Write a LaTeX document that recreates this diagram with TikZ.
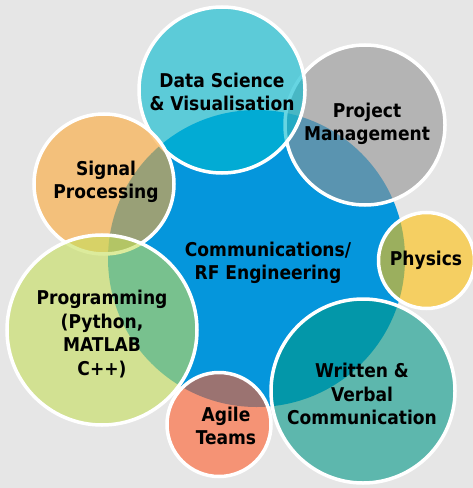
\documentclass[tikz,border=0pt]{standalone}
\usepackage{fontspec}
\setmainfont{DejaVu Sans Condensed}
\definecolor{bgc}{RGB}{230,230,230}
\definecolor{cblue}{RGB}{5,150,220}
\definecolor{cds}{RGB}{0,185,208}
\definecolor{cpm}{RGB}{147,147,147}
\definecolor{csig}{RGB}{253,167,53}
\definecolor{cphy}{RGB}{255,193,10}
\definecolor{cprog}{RGB}{197,223,90}
\definecolor{cwri}{RGB}{2,152,135}
\definecolor{cagi}{RGB}{255,93,43}
\tikzset{
  sat/.style={circle, inner sep=0pt, outer sep=0pt, draw=white, line width=3.5bp, fill opacity=0.6, draw opacity=1},
  lbl/.style={font=\bfseries\fontsize{19bp}{23.5bp}\selectfont, align=center, text=black, inner sep=0pt}
}
\begin{document}
\begin{tikzpicture}[x=1bp,y=-1bp]
\useasboundingbox (0,0) rectangle (473,488);
\fill[bgc] (0,0) rectangle (473,488);
% central circle
\node[circle, inner sep=0pt, outer sep=0pt, fill=cblue, minimum size=297bp] (core) at (256.5,258.5) {};
% satellites
\node[sat, fill=cpm, minimum size=160bp] (pm) at (365,125) {};
\node[sat, fill=cds, minimum size=166bp] (ds) at (222,90) {};
\node[sat, fill=csig, minimum size=140bp] (sig) at (104,184) {};
\node[sat, fill=cprog, minimum size=190bp] (prog) at (102,330) {};
\node[sat, fill=cagi, minimum size=104bp] (agi) at (219,424.5) {};
\node[sat, fill=cwri, minimum size=184bp] (wri) at (363,391) {};
\node[sat, fill=cphy, minimum size=96bp] (phy) at (426.5,260.5) {};
% labels
\node[lbl] (tcore) at (268,263) {Communications/\\RF Engineering};
\node[lbl] (tds) at (222,92) {Data Science\\\& Visualisation};
\node[lbl] (tpm) at (367,124) {Project\\Management};
\node[lbl] (tsig) at (106,182) {Signal\\Processing};
\node[lbl] (tphy) at (426,260) {Physics};
\node[lbl] (tprog) at (102,334) {Programming\\(Python,\\MATLAB\\C++)};
\node[lbl] (twri) at (362,394) {Written \&\\Verbal\\Communication};
\node[lbl] (tagi) at (226,426) {Agile\\Teams};
\end{tikzpicture}
\end{document}
